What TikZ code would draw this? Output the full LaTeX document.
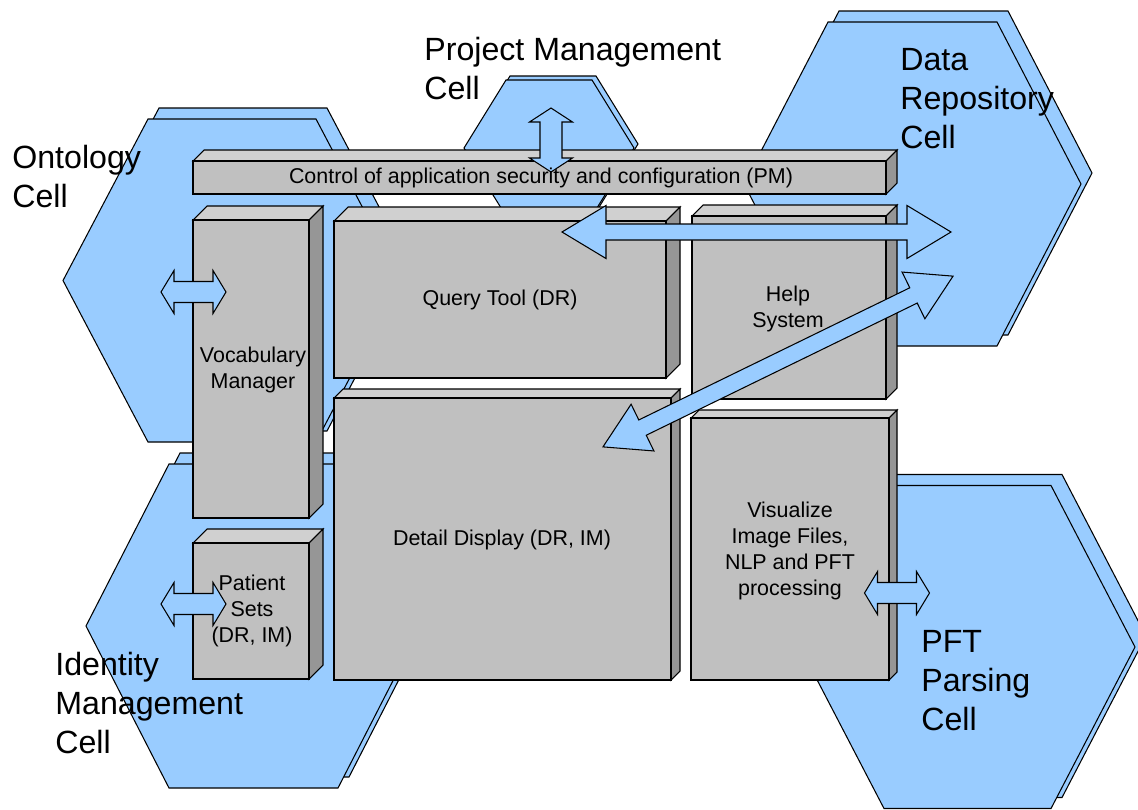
\documentclass[tikz,border=0pt]{standalone}
\usepackage{fontspec}
\setmainfont{Liberation Sans}
\usetikzlibrary{calc}

\definecolor{cCellBlue}{HTML}{99CCFF}
\definecolor{cBoxFront}{HTML}{C0C0C0}
\definecolor{cBoxTop}{HTML}{D0D0D0}
\definecolor{cBoxSide}{HTML}{969696}

\tikzset{
  cellhex/.style={draw=black, fill=cCellBlue, line width=0.6pt},
  facefront/.style={draw=black, fill=cBoxFront, line width=0.6pt},
  facetop/.style={draw=black, fill=cBoxTop, line width=0.6pt},
  faceside/.style={draw=black, fill=cBoxSide, line width=0.6pt},
  blockarrow/.style={draw=black, fill=cCellBlue, line width=0.6pt},
  boxtext/.style={font=\fontsize{12.2}{14.8}\selectfont, align=center, inner sep=0pt},
  celltext/.style={font=\fontsize{18.3}{22.2}\selectfont, align=left, anchor=west, inner sep=0pt}
}

% centre x, centre y, angle, length, shaft half width, head half width, head length
\newcommand{\dblarrow}[7]{%
  \begin{scope}[shift={(#1,#2)}, rotate=#3]
    \draw[blockarrow] (-#4/2,0) -- (-#4/2+#7,#6) -- (-#4/2+#7,#5) -- (#4/2-#7,#5)
      -- (#4/2-#7,#6) -- (#4/2,0) -- (#4/2-#7,-#6) -- (#4/2-#7,-#5)
      -- (-#4/2+#7,-#5) -- (-#4/2+#7,-#6) -- cycle;
  \end{scope}}

\begin{document}
\begin{tikzpicture}[x=0.02cm, y=-0.02cm]

\useasboundingbox (0,0) rectangle (1138,809);

% cells: centre, half top edge, slant, half height, shadow offset
\foreach \cx/\cy/\a/\b/\c/\d in
{232/280.5/84/85/161.5/11,
    549/148/43/42/68/4,
    912.5/184/84.5/84/162/11,
    253.5/626/84.5/83/162/11,
    967.5/647/83.5/84/161.5/11
}
{
    \draw[cellhex] (\cx+\d-\a-\b,\cy-\d) -- (\cx+\d-\a,\cy-\d-\c) -- (\cx+\d+\a,\cy-\d-\c)
        -- (\cx+\d+\a+\b,\cy-\d) -- (\cx+\d+\a,\cy-\d+\c) -- (\cx+\d-\a,\cy-\d+\c) -- cycle;
    \draw[cellhex] (\cx-\a-\b,\cy) -- (\cx-\a,\cy-\c) -- (\cx+\a,\cy-\c)
        -- (\cx+\a+\b,\cy) -- (\cx+\a,\cy+\c) -- (\cx-\a,\cy+\c) -- cycle;
};

% boxes: front face corners and depth
\foreach \xa/\ya/\xb/\yb/\dp in
{193/161/886/194/11,
    193/220/309/518/14,
    193/543/309/679/14,
    334/221/666/378/14,
    334/398/671/680/9,
    692/216/886/399/11,
    691/418/889/680/8
}
{
    \draw[facetop] (\xa,\ya) -- (\xa+\dp,\ya-\dp) -- (\xb+\dp,\ya-\dp) -- (\xb,\ya) -- cycle;
    \draw[faceside] (\xb,\ya) -- (\xb+\dp,\ya-\dp) -- (\xb+\dp,\yb-\dp) -- (\xb,\yb) -- cycle;
    \draw[facefront] (\xa,\ya) rectangle (\xb,\yb);
};

\dblarrow{193.5}{292}{0}{65}{10.5}{21.5}{13}
\dblarrow{193.5}{604}{0}{65}{10.5}{21.5}{13}
\dblarrow{897}{593}{0}{65}{10.5}{21.5}{13}
\dblarrow{551}{140}{90}{64}{11}{21.5}{14}
\dblarrow{756.5}{232}{0}{389}{8}{26.5}{44}
\dblarrow{778}{361.5}{26}{389.5}{8.5}{26}{44}

\node[boxtext] (cCtrlTxt) at (541,178) {Control of application security and configuration (PM)};
\node[boxtext] (cQueryTxt) at (500,300) {Query Tool (DR)};
\node[boxtext] (cHelpTxt) at (788,309) {Help\\System};
\node[boxtext] (cVocabTxt) at (253,370) {Vocabulary\\Manager};
\node[boxtext] (cPatientTxt) at (252,611) {Patient\\Sets\\(DR, IM)};
\node[boxtext] (cDetailTxt) at (502,540) {Detail Display (DR, IM)};
\node[boxtext] (cVisualTxt) at (790,551) {Visualize\\Image Files,\\NLP and PFT\\processing};

\node[celltext] (cProjTxt) at (424,68.5) {Project Management\\Cell};
\node[celltext] (cDataTxt) at (900,99) {Data\\Repository\\Cell};
\node[celltext] (cOntoTxt) at (12,176.5) {Ontology\\Cell};
\node[celltext] (cIdentTxt) at (55,703) {Identity\\Management\\Cell};
\node[celltext] (cPftTxt) at (921,681) {PFT\\Parsing\\Cell};

\end{tikzpicture}
\end{document}
